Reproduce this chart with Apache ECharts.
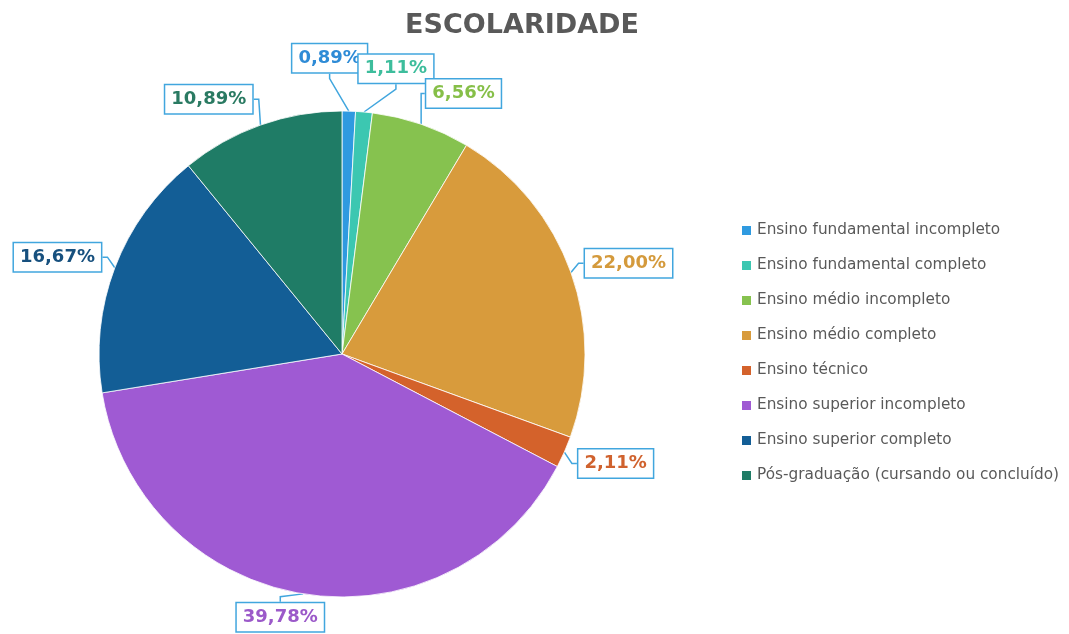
<!DOCTYPE html>
<html><head><meta charset="utf-8">
<script src="https://cdn.jsdelivr.net/npm/echarts@6/dist/echarts.min.js"></script>
<style>html,body{margin:0;padding:0;background:#fff}#c{width:1069px;height:634px}</style>
</head><body><div id="c"></div>
<script>
const categories = ['Ensino fundamental incompleto','Ensino fundamental completo','Ensino médio incompleto','Ensino médio completo','Ensino técnico','Ensino superior incompleto','Ensino superior completo','Pós-graduação (cursando ou concluído)'];
const values = [0.89, 1.11, 6.56, 22.00, 2.11, 39.78, 16.67, 10.89];
const sliceColors = ['#2f9ae0','#3cc7b1','#86c24f','#d89b3c','#d4622b','#9f5ad3','#135e96','#1f7c66'];
const labelColors = ['#2e8bd6','#3dbd9c','#86bf48','#d49a3c','#d0622e','#9b59c9','#17507e','#2a7a62'];

const CX = 342, CY = 354, R = 243;
const total = values.reduce((a, b) => a + b, 0);
const midAngles = [];
{ let c = 0; values.forEach(v => { midAngles.push((c + v / 2) / total * 360); c += v; }); }
// small manual nudges (deg, px) for crowded labels
const nudge = [[-4, 26], [5.5, 15], [6, 4], [2, 0], [-2, 0], [4, -8], [-2, 0], [-8, 0]];

const chart = echarts.init(document.getElementById('c'));
chart.setOption({
  backgroundColor: '#fff',
  title: {
    text: 'ESCOLARIDADE', left: 517, top: 7, textAlign: 'center',
    textStyle: { fontFamily: 'DejaVu Sans', fontWeight: 'bold', fontSize: 27, color: '#595959' }
  },
  legend: {
    orient: 'vertical', left: 735, top: 218, itemWidth: 11, itemHeight: 11, itemGap: 20,
    icon: 'rect',
    textStyle: { fontFamily: 'DejaVu Sans', fontSize: 15.3, color: '#595959' },
    data: categories
  },
  series: [{
    type: 'pie', center: [CX, CY], radius: R, startAngle: 90, clockwise: true,
    avoidLabelOverlap: false,
    itemStyle: { borderColor: '#ffffff', borderWidth: 0.8 },
    data: categories.map((n, i) => ({
      name: n, value: values[i],
      itemStyle: { color: sliceColors[i] },
      label: { color: labelColors[i] }
    })),
    label: {
      show: true, position: 'outside',
      formatter: p => p.value.toFixed(2).replace('.', ',') + '%',
      fontFamily: 'DejaVu Sans', fontWeight: 'bold', fontSize: 18,
      backgroundColor: '#fff', borderColor: '#41a6de', borderWidth: 1.5,
      padding: [6, 6, 4, 6]
    },
    labelLine: { show: true, length: 10, length2: 5, lineStyle: { color: '#41a6de', width: 1.5 } },
    labelLayout: function (p) {
      const i = p.dataIndex;
      const a = (midAngles[i] + nudge[i][0]) * Math.PI / 180;
      const w = p.labelRect.width, h = p.labelRect.height;
      const ext = Math.abs(Math.sin(a)) * w / 2 + Math.abs(Math.cos(a)) * h / 2;
      const D = R + 10 + ext + nudge[i][1];
      return { x: CX + D * Math.sin(a), y: CY - D * Math.cos(a), align: 'center', verticalAlign: 'middle' };
    }
  }]
});
</script></body></html>
